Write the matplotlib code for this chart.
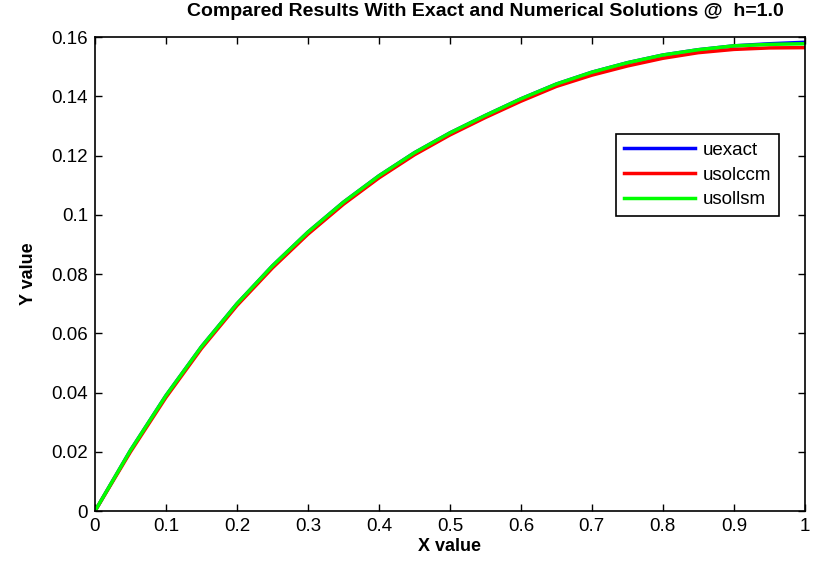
import matplotlib.pyplot as plt

plt.rcParams['font.family'] = ['Liberation Sans', 'DejaVu Sans']

# sample points along x
x = [0.0, 0.05, 0.1, 0.15, 0.2, 0.25, 0.3, 0.35, 0.4, 0.45, 0.5,
     0.55, 0.6, 0.65, 0.7, 0.75, 0.8, 0.85, 0.9, 0.95, 1.0]

uexact = [0.0, 0.0205, 0.0390, 0.0555, 0.0700, 0.0828, 0.0942, 0.1043, 0.1132, 0.1210, 0.1277,
          0.1336, 0.1392, 0.1442, 0.1482, 0.1514, 0.1540, 0.1558, 0.1571, 0.1578, 0.1583]
usolccm = [0.0, 0.0200, 0.0384, 0.0549, 0.0694, 0.0821, 0.0935, 0.1036, 0.1125, 0.1203, 0.1270,
           0.1329, 0.1384, 0.1434, 0.1472, 0.1503, 0.1529, 0.1548, 0.1559, 0.1564, 0.1565]
usollsm = [0.0, 0.0205, 0.0390, 0.0555, 0.0700, 0.0828, 0.0942, 0.1043, 0.1132, 0.1210, 0.1277,
           0.1336, 0.1392, 0.1442, 0.1482, 0.1514, 0.1540, 0.1558, 0.1571, 0.1576, 0.1578]

fig = plt.figure(figsize=(8.14, 5.62), dpi=100)
ax = fig.add_axes([0.1167, 0.0907, 0.872, 0.843])

ax.plot(x, uexact, color=(0, 0, 1), lw=2.5, label='uexact')
ax.plot(x, usolccm, color=(1, 0, 0), lw=2.5, label='usolccm')
ax.plot(x, usollsm, color=(0, 1, 0), lw=2.5, label='usollsm')

ax.set_xlim(0, 1)
ax.set_ylim(0, 0.16)
ax.set_xticks([i / 10 for i in range(11)])
ax.set_xticklabels(['0', '0.1', '0.2', '0.3', '0.4', '0.5', '0.6', '0.7', '0.8', '0.9', '1'])
ax.set_yticks([i * 0.02 for i in range(9)])
ax.set_yticklabels(['0', '0.02', '0.04', '0.06', '0.08', '0.1', '0.12', '0.14', '0.16'])
ax.tick_params(direction='in', top=True, right=True, length=5, width=1,
               labelsize=13.5, pad=5)
for s in ax.spines.values():
    s.set_linewidth(1.2)

ax.set_xlabel('X value', fontsize=13, fontweight='bold', labelpad=2)
ax.set_ylabel('Y value', fontsize=13, fontweight='bold', labelpad=10)
fig.text(485 / 814, 1 - 12 / 562, 'Compared Results With Exact and Numerical Solutions @  h=1.0',
         ha='center', va='center', fontsize=14, fontweight='bold')

leg = ax.legend(loc='upper right', bbox_to_anchor=(0.963, 0.795), borderaxespad=0,
                fontsize=13.5, fancybox=False, framealpha=1, edgecolor='black',
                handlelength=3.8, labelspacing=0.4, borderpad=0.4, handletextpad=0.4)
leg.get_frame().set_linewidth(1.2)

fig.savefig('out.png', dpi=100)
